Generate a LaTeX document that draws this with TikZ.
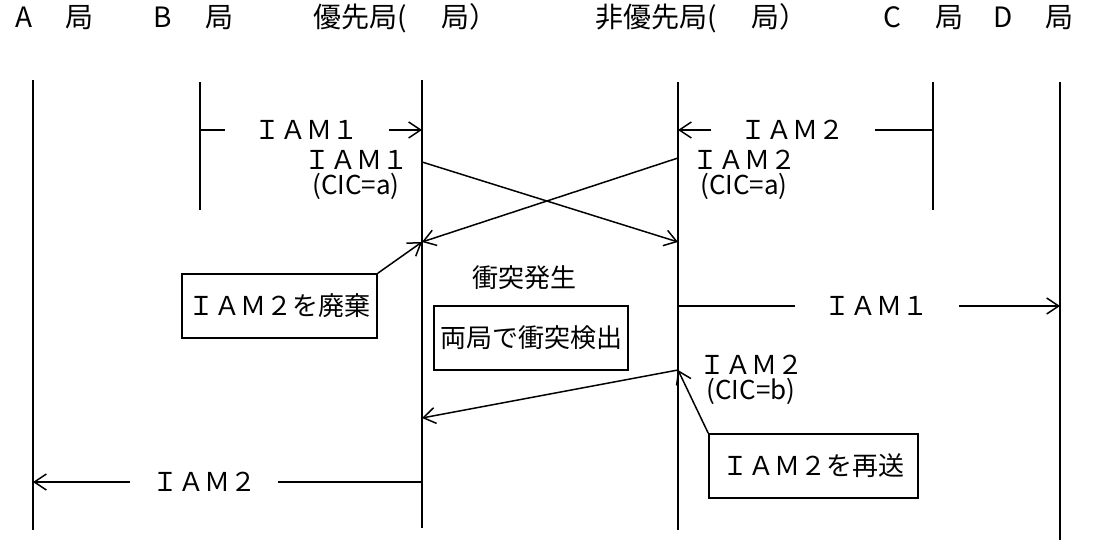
\documentclass[tikz,border=0pt]{standalone}
\usepackage{fontspec}
\setmainfont{Noto Sans CJK JP}
\usetikzlibrary{arrows.meta}
\begin{document}
\begin{tikzpicture}[x=0.5pt,y=-0.5pt,font=\fontsize{13}{15}\selectfont]
        \tikzstyle{life}=[draw, line width=0.9pt]
        \tikzstyle{edge}=[draw, line width=0.75pt, -{Straight Barb[length=6pt,width=8pt]}]
        \tikzstyle{head}=[anchor=base west, font=\fontsize{14}{16}\selectfont]
        \tikzstyle{tag}=[fill=white, inner xsep=15pt, inner ysep=0pt]
        \tikzstyle{cic}=[align=center, inner sep=0pt, font=\fontsize{13}{12.5}\selectfont]
        \tikzstyle{note}=[draw, line width=0.75pt, minimum height=32pt, inner xsep=3pt]
        \useasboundingbox (0,0) rectangle (1101,544);
        % header
        \node [head] (ha) at (8,28) {\makebox[25pt][l]{A}局};
        \node [head] (hb) at (146,28) {\makebox[26pt][l]{B}局};
        \node [head] (hp) at (306,28) {\makebox[64pt][l]{優先局(}局）};
        \node [head] (hn) at (588,28) {\makebox[78pt][l]{非優先局(}局）};
        \node [head] (hc) at (876,28) {\makebox[26pt][l]{C}局};
        \node [head] (hd) at (986,28) {\makebox[26pt][l]{D}局};
        % lifelines
        \coordinate (a1) at (33,80);   \coordinate (a2) at (33,530);
        \coordinate (b1) at (200,82);  \coordinate (b2) at (200,210);
        \coordinate (p1) at (422,80);  \coordinate (p2) at (422,528);
        \coordinate (n1) at (678,82);  \coordinate (n2) at (678,530);
        \coordinate (c1) at (933,82);  \coordinate (c2) at (933,210);
        \coordinate (d1) at (1060,82); \coordinate (d2) at (1060,540);
        \path[life] (a1) -- (a2);
        \path[life] (b1) -- (b2);
        \path[life] (p1) -- (p2);
        \path[life] (n1) -- (n2);
        \path[life] (c1) -- (c2);
        \path[life] (d1) -- (d2);
        % IAM1 / IAM2 arriving
        \coordinate (b-m1) at (200,130); \coordinate (p-m1) at (422,130);
        \coordinate (c-m2) at (933,130); \coordinate (n-m2) at (678,130);
        \path[edge] (b-m1) -- node[tag, pos=0.48] (t1) {ＩＡＭ１} (p-m1);
        \path[edge] (c-m2) -- node[tag, pos=0.55] (t2) {ＩＡＭ２} (n-m2);
        % crossing
        \coordinate (p-x1) at (422,162); \coordinate (n-x1) at (678,242);
        \coordinate (n-x2) at (678,158); \coordinate (p-x2) at (422,242);
        \path[edge] (p-x1) -- (n-x1);
        \path[edge] (n-x2) -- (p-x2);
        \node [cic] (l1) at (356,175) {ＩＡＭ１\\(CIC=a)};
        \node [cic] (l2) at (744,175) {ＩＡＭ２\\(CIC=a)};
        % collision
        \node (cl) at (524,278) {衝突発生};
        \node [note, minimum width=97.5pt] (k1) at (279.5,306) {ＩＡＭ２を廃棄};
        \node [note, minimum width=97pt] (k2) at (531,338) {両局で衝突検出};
        \path[edge] (k1.north east) -- (p-x2);
        % IAM1 onward
        \coordinate (n-m5) at (678,306); \coordinate (d-m5) at (1060,306);
        \path[edge] (n-m5) -- node[tag, pos=0.52] (t5) {ＩＡＭ１} (d-m5);
        % resend
        \coordinate (n-r) at (678,370); \coordinate (p-r) at (422,418);
        \path[edge] (n-r) -- (p-r);
        \node [cic] (l3) at (751,380) {ＩＡＭ２\\(CIC=b)};
        \node [note, minimum width=104.5pt] (k3) at (813.5,466) {ＩＡＭ２を再送};
        \path[edge] (k3.north west) -- (n-r);
        % IAM2 onward
        \coordinate (p-m7) at (422,482); \coordinate (a-m7) at (33,482);
        \path[edge] (p-m7) -- node[tag, pos=0.56, inner xsep=11pt] (t7) {ＩＡＭ２} (a-m7);
\end{tikzpicture}
\end{document}
